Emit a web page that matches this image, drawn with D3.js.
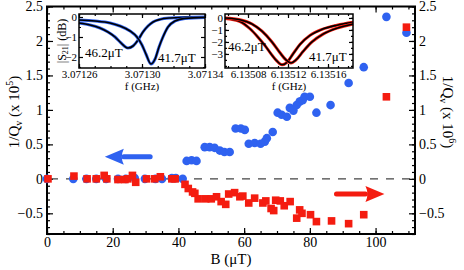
<!DOCTYPE html>
<html>
<head>
<meta charset="utf-8">
<script src="https://cdn.jsdelivr.net/npm/d3@7"></script>
<style>
body { margin: 0; background: #fff; }
svg { font-family: "Liberation Serif", "DejaVu Serif", serif; }
.tick line { stroke: #000; stroke-width: 1.2; }
</style>
</head>
<body>
<div id="chart"></div>
<script>
// main data: B field (uT) and inverse Q values
var blueB = [0, 8, 12, 15, 18, 21.6, 24, 26.7, 29.8, 33, 35, 38, 39.2, 41.3,
	42.5, 44, 45.5, 48, 49.5, 51, 52.6, 54, 55.6, 57.4, 59, 60.2, 61.4, 63.2, 65, 66.3, 66.9, 68.7,
	70.2, 71.4, 73, 73.9, 75, 76, 76.9, 77.8, 78.4, 80, 82, 86.3, 91.8, 96.4, 103.3, 109.4];
var blueQ = [0, 0, 0, 0, 0, 0, 0, 0.01, 0, 0, 0, 0.01, 0.01, 0,
	0.26, 0.27, 0.26, 0.46, 0.46, 0.45, 0.41, 0.39, 0.39, 0.73, 0.73, 0.71, 0.51, 0.52, 0.51, 0.54, 0.59, 0.68,
	0.96, 0.93, 0.9, 1.03, 0.99, 1.07, 1.12, 1.14, 1.19, 1.19, 0.96, 1.07, 1.39, 1.62, 2.35, 2.12];
var redB = [0.3, 8.2, 12.2, 15, 17.4, 18.2, 21.6, 23.7, 24.6, 26, 27, 30.3, 32.8, 34.5, 38, 39,
	42, 43, 44.3, 45, 46, 48.3, 50, 51.6, 53, 54.4, 55.3, 57.1, 58.7, 59.6, 61.4, 63.2, 65.7, 66.6,
	68.2, 69, 69.6, 71, 72.2, 74, 76, 76.9, 77.6, 80.2, 82, 86.6, 91.8, 96.4, 103.3, 109.4];
var redQ = [0, 0.04, 0, 0, 0.05, 0, -0.01, -0.01, 0, 0.05, -0.05, 0, 0, 0.03, 0, 0,
	-0.08, -0.14, -0.19, -0.21, -0.29, -0.29, -0.29, -0.26, -0.33, -0.37, -0.22, -0.2, -0.26, -0.25, -0.35, -0.28, -0.35, -0.32,
	-0.43, -0.46, -0.31, -0.32, -0.39, -0.33, -0.57, -0.45, -0.5, -0.52, -0.62, -0.61, -0.65, -0.52, 1.19, 2.2];
var xTicks = [0, 20, 40, 60, 80, 100];
var yTicks = [-0.5, 0, 0.5, 1, 1.5, 2, 2.5];

// inset 1 (3.0713 GHz mode), |S21| in dB
var in1Ticks = [3.07126, 3.07130, 3.07134];
var in1F_462 = [3.0712600, 3.0712670, 3.0712733, 3.0712784, 3.0712829, 3.0712867, 3.0712911, 3.0712943,
	3.0712975, 3.0713006, 3.0713038, 3.0713070, 3.0713114, 3.0713178, 3.0713273, 3.0713400];
var in1S_462 = [-0.3, -0.4, -0.55, -0.75, -1.0, -1.3, -1.55, -1.45, -1.15, -0.75, -0.45, -0.25, -0.12, -0.05, -0.02, 0];
var in1F_417 = [3.0712600, 3.0712702, 3.0712797, 3.0712860, 3.0712924, 3.0712968, 3.0713000, 3.0713025,
	3.0713057, 3.0713083, 3.0713108, 3.0713133, 3.0713165, 3.0713210, 3.0713273, 3.0713400];
var in1S_417 = [-0.15, -0.2, -0.3, -0.45, -0.7, -1.0, -1.4, -1.85, -2.35, -2.1, -1.5, -1.0, -0.5, -0.2, -0.07, -0.02];

// inset 2 (6.1351 GHz mode)
var in2Ticks = [6.13508, 6.13512, 6.13516];
var in2F_462 = [6.135057, 6.135072, 6.135082, 6.135090, 6.135097, 6.135104, 6.135109, 6.135114,
	6.135119, 6.135125, 6.135132, 6.135142, 6.135154, 6.135169, 6.135185];
var in2S_462 = [-0.05, -0.3, -0.9, -1.6, -2.3, -3.1, -3.6, -3.9, -3.7, -3.0, -2.2, -1.45, -0.95, -0.6, -0.35];
var in2F_417 = [6.135057, 6.135072, 6.135084, 6.135094, 6.135104, 6.135112, 6.135118, 6.135123,
	6.135128, 6.135135, 6.135144, 6.135155, 6.135169, 6.135185];
var in2S_417 = [0, -0.15, -0.5, -1.1, -2.0, -2.9, -3.5, -3.75, -3.5, -2.8, -2.0, -1.35, -0.85, -0.5];

var W = 464, H = 270;
var BLUE = "#2f62f0", RED = "#f41c10";

var svg = d3.select("#chart").append("svg")
	.attr("width", W).attr("height", H);

// SCALES
var x = d3.scaleLinear().domain([0, 112]).range([47, 415]);
var y = d3.scaleLinear().domain([-0.8, 2.5]).range([234, 6.5]);

function minorRange(a, b, s) {
	var out = [];
	for (var v = a; v <= b + 1e-9; v += s) out.push(+v.toFixed(6));
	return out;
}

// AXES (ticks point inward)
function addAxis(axisFn, scale, pos, major, minor, fmt, size, pad) {
	var g = svg.append("g").attr("transform", pos);
	g.call(axisFn(scale).tickValues(minor).tickSize(-size / 2).tickFormat(""));
	var g2 = svg.append("g").attr("transform", pos);
	g2.call(axisFn(scale).tickValues(major).tickSize(-size).tickPadding(pad).tickFormat(fmt));
	g.select(".domain").remove();
	g2.select(".domain").remove();
	return g2;
}
var yFmt = function (d) { return d === 0 ? "0" : d3.format("")(d); };
addAxis(d3.axisBottom, x, "translate(0,234)", xTicks, minorRange(0, 110, 5), d3.format("d"), 6, 3);
addAxis(d3.axisTop, x, "translate(0,6.5)", xTicks, minorRange(0, 110, 5), "", 6, 5);
addAxis(d3.axisLeft, y, "translate(47,0)", yTicks, minorRange(-0.8, 2.5, 0.1), yFmt, 6, 4);
addAxis(d3.axisRight, y, "translate(415,0)", yTicks, minorRange(-0.8, 2.5, 0.1), yFmt, 6, 4);
svg.selectAll(".tick text").attr("font-size", 14).attr("font-family", "Liberation Serif").attr("fill", "#000");

// frame
svg.append("rect").attr("x", 47).attr("y", 6.5).attr("width", 368).attr("height", 227.5)
	.attr("fill", "none").attr("stroke", "#000").attr("stroke-width", 2);

// zero line
svg.append("line")
	.attr("x1", x(0)).attr("x2", x(112)).attr("y1", y(0)).attr("y2", y(0))
	.attr("stroke", "#444").attr("stroke-width", 1.4).attr("stroke-dasharray", "8,8")
	.attr("stroke-dashoffset", -3);

// POINTS
var blue = blueB.map(function (b, i) { return { b: b, q: blueQ[i] }; });
var red = redB.map(function (b, i) { return { b: b, q: redQ[i] }; });

svg.append("g").selectAll("circle").data(blue).enter().append("circle")
	.attr("cx", function (d) { return x(d.b); })
	.attr("cy", function (d) { return y(d.q); })
	.attr("r", 4.3)
	.attr("fill", BLUE);

svg.append("g").selectAll("rect").data(red).enter().append("rect")
	.attr("x", function (d) { return x(d.b) - 3.8; })
	.attr("y", function (d) { return y(d.q) - 3.8; })
	.attr("width", 7.6).attr("height", 7.6)
	.attr("fill", RED);

// ARROWS
function arrow(b0, b1, q, color) {
	var x0 = x(b0), x1 = x(b1), yy = y(q);
	var dir = x1 > x0 ? 1 : -1;
	var headStart = x1 - dir * 19;
	svg.append("line").attr("x1", x0).attr("x2", headStart).attr("y1", yy).attr("y2", yy)
		.attr("stroke", color).attr("stroke-width", 5).attr("stroke-linecap", "round");
	svg.append("path")
		.attr("d", "M" + x1 + "," + yy + "L" + (headStart) + "," + (yy - 8) +
			"Q" + (headStart + dir * 4) + "," + yy + " " + headStart + "," + (yy + 8) + "Z")
		.attr("fill", color);
}
arrow(31.4, 17.6, 0.32, BLUE);
arrow(88.1, 102.7, -0.22, RED);

// AXIS LABELS
var xl = svg.append("text").attr("x", x(56)).attr("y", 264).attr("text-anchor", "middle")
	.attr("font-size", 15).text("B (");
xl.append("tspan").text("\u03bcT)");

function qLabel(tx, ty, rot, exp) {
	var t = svg.append("text").attr("transform", "translate(" + tx + "," + ty + ") rotate(" + rot + ")")
		.attr("text-anchor", "middle").attr("font-size", 15);
	t.append("tspan").text("1/Q");
	t.append("tspan").attr("font-size", 10).attr("dy", 3).text("v");
	t.append("tspan").attr("dy", -3).text(" (x 10");
	t.append("tspan").attr("font-size", 10).attr("dy", -6).text(exp);
	t.append("tspan").attr("dy", 6).text(")");
}
qLabel(19, 112, -90, "5");
qLabel(443, 112, 90, "6");

// INSETS
function inset(x0, x1, fdom, sdom, ticks, minorStep, yMajor, fits, lineColor, labels, ylab) {
	var fx = d3.scaleLinear().domain(fdom).range([x0, x1]);
	var sy = d3.scaleLinear().domain(sdom).range([68, 14]);
	var g = svg.append("g");
	g.append("rect").attr("x", x0).attr("y", 14).attr("width", x1 - x0).attr("height", 54)
		.attr("fill", "#fff");

	var minor = minorRange(ticks[0] - 2 * minorStep, ticks[ticks.length - 1] + 2 * minorStep, minorStep)
		.filter(function (v) { return v >= fdom[0] - 1e-9 && v <= fdom[1] + 1e-9; });
	var yMinor = minorRange(Math.ceil(sdom[0] * 2) / 2, sdom[1], 0.5);

	[["translate(0,68)", d3.axisBottom, fx, ticks, minor, d3.format(".5f")],
	 ["translate(0,14)", d3.axisTop, fx, ticks, minor, ""],
	 ["translate(" + x0 + ",0)", d3.axisLeft, sy, yMajor, yMinor, d3.format("d")],
	 ["translate(" + x1 + ",0)", d3.axisRight, sy, yMajor, yMinor, ""]].forEach(function (a) {
		var m = g.append("g").attr("transform", a[0]).call(a[1](a[2]).tickValues(a[4]).tickSize(-2).tickFormat(""));
		var M = g.append("g").attr("transform", a[0]).call(a[1](a[2]).tickValues(a[3]).tickSize(-4).tickPadding(2).tickFormat(a[5]));
		m.select(".domain").remove();
		M.select(".domain").remove();
		M.selectAll("text").attr("font-size", 11).attr("font-family", "Liberation Serif").attr("fill", "#000");
	});

	var line = d3.line().x(function (d) { return fx(d[0]); }).y(function (d) { return sy(d[1]); })
		.curve(d3.curveMonotoneX);
	fits.forEach(function (s) {
		var pts = s[0].map(function (f, i) { return [f, s[1][i]]; });
		g.append("path").attr("d", line(pts)).attr("fill", "none")
			.attr("stroke", lineColor).attr("stroke-width", 3);
		g.append("path").attr("d", line(pts)).attr("fill", "none")
			.attr("stroke", "#000").attr("stroke-width", 1.6);
	});

	g.append("rect").attr("x", x0).attr("y", 14).attr("width", x1 - x0).attr("height", 54)
		.attr("fill", "none").attr("stroke", "#000").attr("stroke-width", 1.5);

	labels.forEach(function (l) {
		g.append("text").attr("x", l[0]).attr("y", l[1]).attr("font-size", 13).text(l[2]);
	});
	g.append("text").attr("x", (x0 + x1) / 2).attr("y", 90).attr("text-anchor", "middle")
		.attr("font-size", 11).text("f (GHz)");
	if (ylab) {
		var t = g.append("text").attr("transform", "translate(66,41) rotate(-90)")
			.attr("text-anchor", "middle").attr("font-size", 12);
		t.append("tspan").text("|S");
		t.append("tspan").attr("font-size", 8).attr("dy", 2).text("21");
		t.append("tspan").attr("dy", -2).text("| (dB)");
	}
}

inset(79, 205, [3.07126, 3.07134], [-2.55, 0.15], in1Ticks, 0.00001, [-2, -1, 0],
	[[in1F_462, in1S_462], [in1F_417, in1S_417]], BLUE,
	[[85, 57, "46.2\u03bcT"], [158, 62, "41.7\u03bcT"]], true);
inset(225, 353, [6.135057, 6.135185], [-4.17, 0.33], in2Ticks, 0.00001, [-3, -2, -1, 0],
	[[in2F_462, in2S_462], [in2F_417, in2S_417]], RED,
	[[228, 51, "46.2\u03bcT"], [309, 61, "41.7\u03bcT"]], false);
</script>
</body>
</html>
